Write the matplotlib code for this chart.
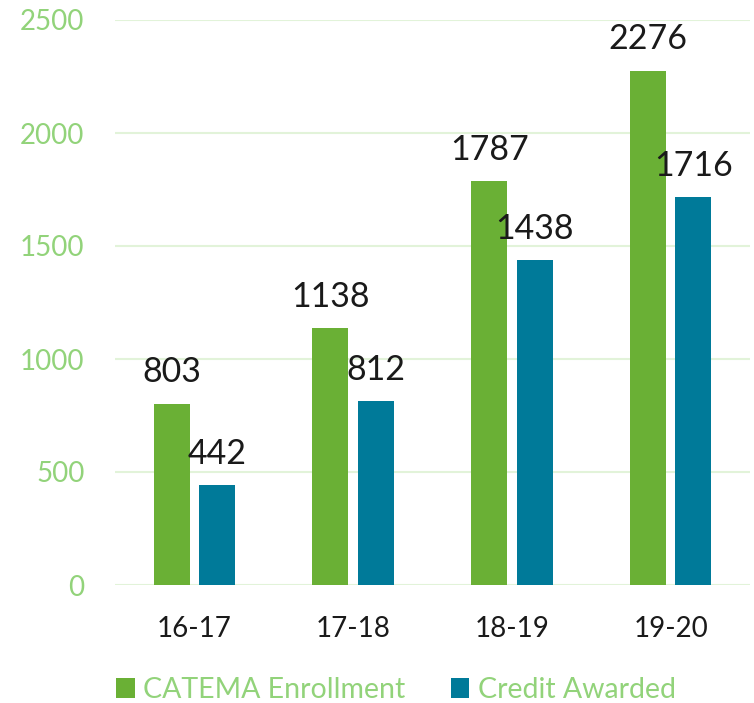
import numpy as np
import matplotlib
matplotlib.use("Agg")
import matplotlib.pyplot as plt

plt.rcParams['font.family'] = ['Lato', 'DejaVu Sans']

years = ['16-17', '17-18', '18-19', '19-20']
enrollment = [803, 1138, 1787, 2276]
credit = [442, 812, 1438, 1716]

GREEN = '#6AB035'
TEAL = '#007A99'
LIGHT = '#92D37A'
GRID = '#E2F3D9'

fig = plt.figure(figsize=(7.54, 7.03), dpi=100)
ax = fig.add_axes([115/754, 118/703, 635/754, 565/703])

x = np.arange(len(years))
w = 0.227
off = 0.143
b1 = ax.bar(x - off, enrollment, w, color=GREEN, label='CATEMA Enrollment', zorder=3)
b2 = ax.bar(x + off, credit, w, color=TEAL, label='Credit Awarded', zorder=3)

for bars, vals in ((b1, enrollment), (b2, credit)):
    for r, v in zip(bars, vals):
        ax.annotate(str(v), (r.get_x() + r.get_width()/2, v), xytext=(0, 11),
                    textcoords='offset points', ha='center', va='bottom',
                    fontsize=24.5, color='#1a1a1a', zorder=4)

ax.set_xlim(-0.5, 3.5)
ax.set_ylim(0, 2500)
ax.set_yticks(np.arange(0, 2501, 500))
ax.set_xticks(x)
ax.set_xticklabels(years)
ax.yaxis.grid(True, color=GRID, linewidth=1.5, zorder=0)
ax.set_axisbelow(True)
for s in ax.spines.values():
    s.set_visible(False)
ax.tick_params(axis='y', length=0, pad=22, labelsize=20, labelcolor=LIGHT)
ax.tick_params(axis='x', length=0, pad=22, labelsize=20, labelcolor='#1a1a1a')

fig.legend(handles=[b1, b2], loc='lower left', bbox_to_anchor=(116/754, 0),
           ncol=2, frameon=False, fontsize=20.5, labelcolor=LIGHT,
           borderpad=0, borderaxespad=0,
           handlelength=0.65, handleheight=0.65, handletextpad=0.3,
           columnspacing=1.6)

fig.savefig('out.png', dpi=100)
